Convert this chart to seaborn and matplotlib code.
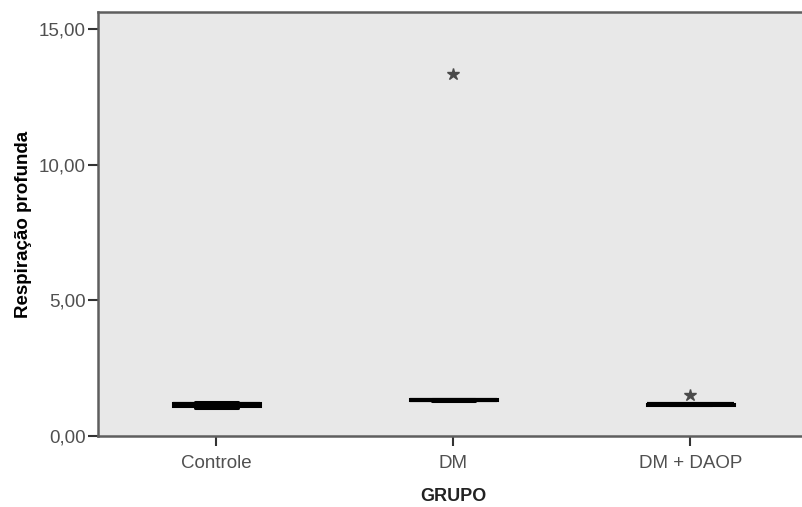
import matplotlib
matplotlib.use("Agg")
import matplotlib.pyplot as plt
import matplotlib.ticker as mticker
import numpy as np
import pandas as pd
import seaborn as sns

# Respiração profunda por grupo
grupos = ["Controle", "DM", "DM + DAOP"]
controle = [1.02, 1.08, 1.12, 1.15, 1.17, 1.19, 1.21, 1.24, 1.27]
dm = [1.30, 1.31, 1.33, 1.34, 1.35, 1.37, 1.38, 13.35]
dm_daop = [1.13, 1.14, 1.15, 1.16, 1.17, 1.18, 1.19, 1.50]
y_ticks = [0, 5, 10, 15]

df = pd.DataFrame({
    "GRUPO": [grupos[0]] * len(controle) + [grupos[1]] * len(dm) + [grupos[2]] * len(dm_daop),
    "Respiração profunda": controle + dm + dm_daop,
})

sns.set_style("ticks")
plt.rcParams["font.family"] = ["Liberation Sans", "DejaVu Sans"]

bg = "#e8e8e8"
spine_col = "#5e5e5e"
tick_col = "#505050"

fig = plt.figure(figsize=(8.03, 5.07), dpi=100)
ax = fig.add_axes([98 / 803, 71 / 507, (809 - 98) / 803, (436 - 12) / 507])
ax.set_facecolor(bg)

sns.boxplot(
    data=df, x="GRUPO", y="Respiração profunda", order=grupos,
    width=0.37, color=bg, linecolor="black", linewidth=2.2,
    whis=1.5, ax=ax,
    medianprops=dict(color="black", linewidth=3),
    flierprops=dict(marker="*", markerfacecolor="#4a4a4a", markeredgecolor="#4a4a4a",
                    markersize=9),
)

ax.set_xlim(-0.5, 2.5)
ax.set_ylim(0, 15.63)
ax.set_yticks(y_ticks)
ax.yaxis.set_major_formatter(mticker.FuncFormatter(lambda v, p: f"{v:.2f}".replace(".", ",")))

for s in ax.spines.values():
    s.set_color(spine_col)
    s.set_linewidth(1.8)

ax.tick_params(axis="both", direction="out", length=7, width=1.5, color="#333333",
               labelcolor=tick_col, labelsize=13.5)
ax.tick_params(axis="x", pad=7)
ax.tick_params(axis="y", pad=2)

ax.set_xlabel("GRUPO", fontsize=13, fontweight="bold", color="#222222", labelpad=11)
ax.set_ylabel("Respiração profunda", fontsize=13.5, fontweight="bold", color="black", labelpad=5)

fig.savefig("out.png", dpi=100, facecolor="white")
